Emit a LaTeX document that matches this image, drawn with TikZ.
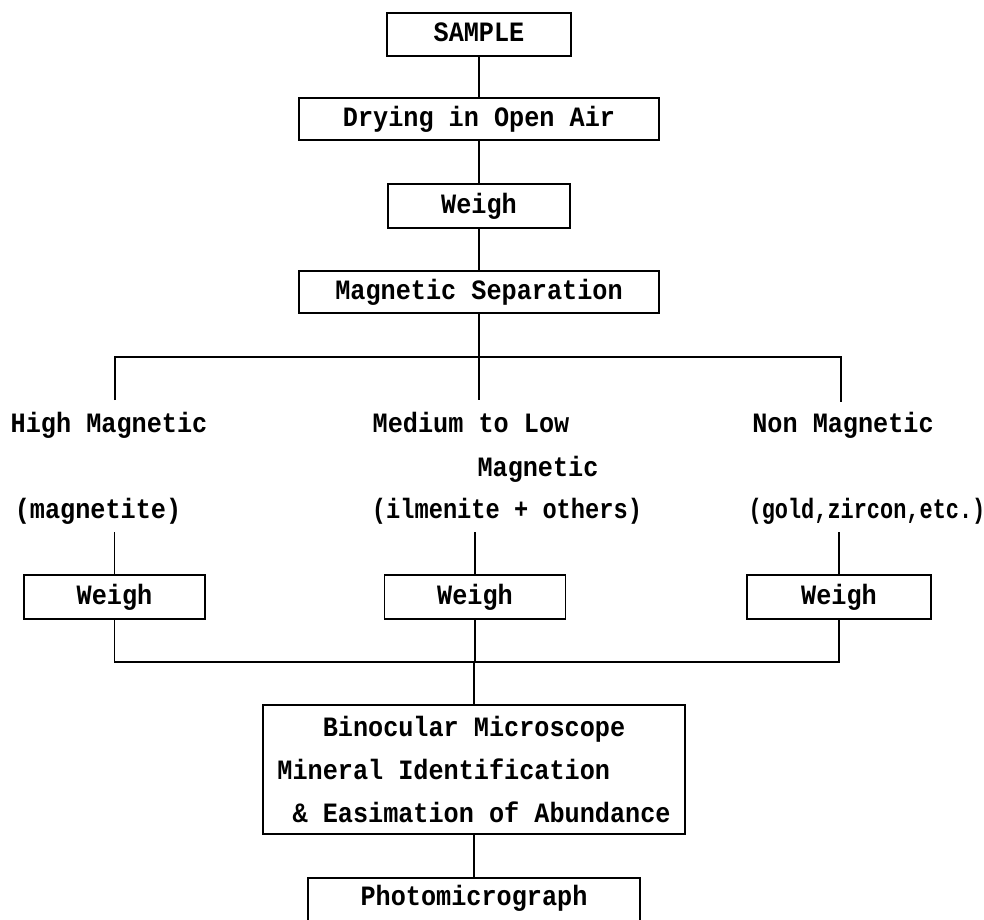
\documentclass[tikz,border=0pt]{standalone}
\usepackage{fontspec}
\usepackage{graphicx}
\setmainfont{Liberation Mono}[FakeStretch=0.9]
\begin{document}
\begin{tikzpicture}[x=1pt,y=-1pt,
  every node/.style={font=\fontsize{28}{43}\selectfont\bfseries, inner sep=0pt},
  box/.style={draw, line width=1.5pt, minimum height=43pt},
  line1/.style={text height=20pt, text depth=6pt},
  txt/.style={line1},
  conn/.style={line width=1.5pt}]
\useasboundingbox (0,0) rectangle (984,919);
\clip (0,0) rectangle (984,919);
% top chain
\node[box, line1, minimum width=184pt] (sample) at (479,34.5) {SAMPLE};
\node[box, line1, minimum width=360pt, minimum height=42pt] (drying) at (479,119) {Drying in Open Air};
\node[box, line1, minimum width=182pt, minimum height=44pt] (weigh0) at (479,206) {Weigh};
\node[box, line1, minimum width=360pt, minimum height=42pt] (magsep) at (479,292) {Magnetic Separation};
\draw[conn] (sample) -- (drying);
\draw[conn] (drying) -- (weigh0);
\draw[conn] (weigh0) -- (magsep);
% branch bar
\coordinate (bL) at (115,357);
\coordinate (bR) at (841,357);
\coordinate (hmTop) at (115,400);
\coordinate (mlTop) at (479,400);
\coordinate (nmTop) at (841,402);
\draw[conn] (magsep.south) -- (mlTop);
\draw[conn] (hmTop) -- (bL) -- (bR) -- (nmTop);
% category labels
\node[txt] (hm) at (109,425) {High Magnetic};
\node[txt] (ml) at (471,425) {Medium to Low};
\node[txt] (ml2) at (538,469) {Magnetic};
\node[txt] (nm) at (843,425) {Non Magnetic};
\node[txt] (mg) at (98,511) {(magnetite)};
\node[txt] (il) at (507,511) {\scalebox{0.94}[1]{(ilmenite + others)}};
\node[txt] (go) at (867,511) {\scalebox{0.87}[1]{(gold,zircon,etc.)}};
% weigh boxes
\node[box, line1, minimum width=181pt, minimum height=44pt] (w1) at (114.5,597) {Weigh};
\node[box, line1, minimum width=181pt, minimum height=44pt] (w2) at (475,597) {Weigh};
\node[box, line1, minimum width=184pt, minimum height=44pt] (w3) at (839,597) {Weigh};
\coordinate (mgB) at (114.5,532);
\coordinate (ilB) at (475,532);
\coordinate (goB) at (839,532);
\draw[conn] (mgB) -- (w1.north);
\draw[conn] (ilB) -- (w2.north);
\draw[conn] (goB) -- (w3.north);
% join bar
\coordinate (cL) at (114.5,662);
\coordinate (cR) at (839,662);
\draw[conn] (w1.south) -- (cL) -- (cR) -- (w3.south);
\draw[conn] (w2.south) -- (w2.south |- cL);
% microscope
\node[box, minimum width=422pt, minimum height=129pt, align=left] (bino) at (474,769.5)
  {\phantom{xxx}Binocular Microscope\\Mineral Identification\\\phantom{x}\& Easimation of Abundance};
\draw[conn] (bino.north) -- (bino.north |- cL);
\node[box, minimum width=332pt, minimum height=50pt,
  label={[line1, yshift=5pt]center:Photomicrograph}] (photo) at (474,903) {};
\draw[conn] (bino) -- (photo);
\end{tikzpicture}
\end{document}
